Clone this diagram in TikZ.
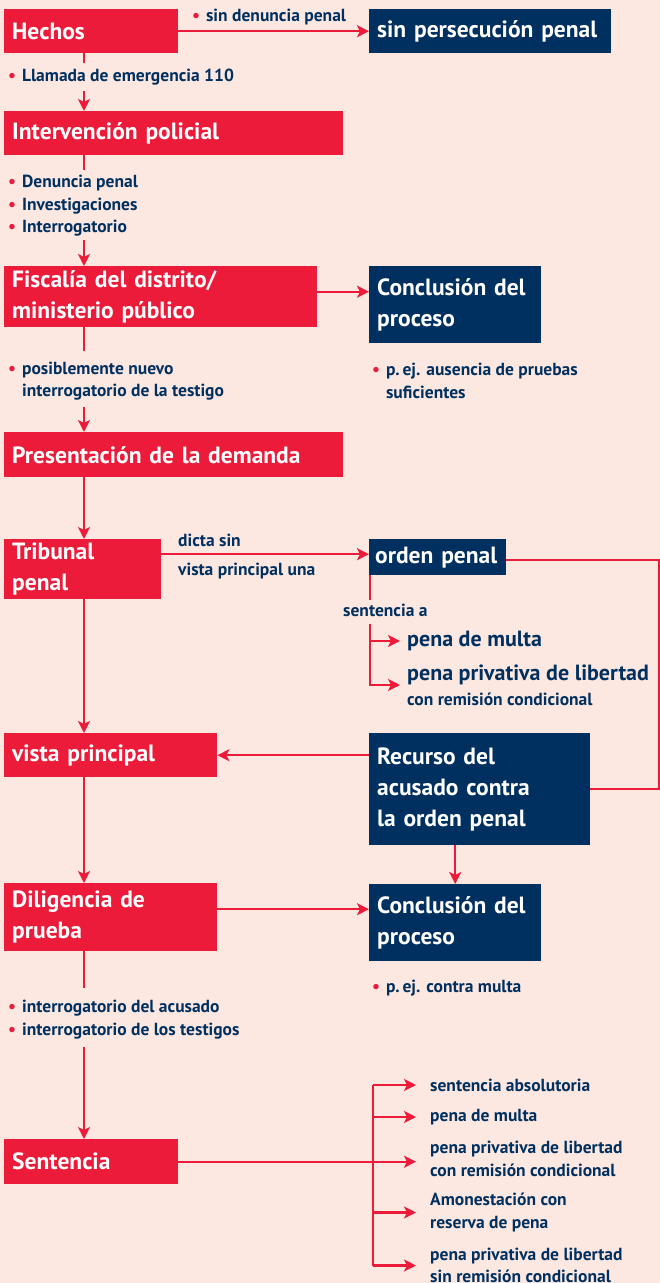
\documentclass[tikz,border=0pt]{standalone}
\usepackage{fontspec}
\setmainfont{PT Sans}
\usetikzlibrary{arrows.meta}
\definecolor{tred}{HTML}{ED1B3A}
\definecolor{tnavy}{HTML}{00305F}
\definecolor{tbg}{HTML}{FDE7E1}
\newcommand\bl{{\color{tred}\textbullet}\hspace{6pt}}
\newcommand\ind{\phantom{\textbullet}\hspace{6pt}}
\begin{document}
\begin{tikzpicture}[
x=1pt, y=-1pt,
redbox/.style 2 args={fill=tred, text=white, anchor=north west,
  font=\bfseries\fontsize{23.5}{31}\selectfont, align=left,
  inner xsep=8pt, inner ysep=0pt, text width=#1, minimum height=#2},
navybox/.style 2 args={redbox={#1}{#2}, fill=tnavy},
note/.style={text=tnavy, font=\bfseries\fontsize{17.5}{22.5}\selectfont,
  align=left, anchor=west, inner sep=0pt},
big/.style={note, font=\bfseries\fontsize{22}{25}\selectfont},
link/.style={draw=tred, line width=2.4pt},
arr/.style={link, -{Stealth[length=12pt,width=12pt,inset=3pt]}},
]
\useasboundingbox[fill=tbg] (0,0) rectangle (660,1283);

\node[redbox={158pt}{44pt}] (hechos) at (4,9) {Hechos};
\node[navybox={226pt}{44pt}] (sinpers) at (369,9) {sin persecución penal};
\node[redbox={323pt}{44pt}] (interv) at (4,111) {Intervención policial};
\node[redbox={297pt}{61pt}] (fisc) at (4,266) {Fiscalía del distrito/\\ministerio público};
\node[navybox={156pt}{77pt}] (concl) at (369,266) {Conclusión del\\proceso};
\node[redbox={323pt}{45pt}] (present) at (4,432) {Presentación de la demanda};
\node[redbox={141pt}{60pt}] (trib) at (4,539) {Tribunal\\penal};
\node[navybox={125pt}{36pt}, inner xsep=6pt] (orden) at (369,539) {orden penal};
\node[redbox={197pt}{44pt}] (vista) at (4,733) {vista principal};
\node[navybox={205pt}{112pt}] (recurso) at (369,733) {Recurso del\\acusado contra\\la orden penal};
\node[redbox={197pt}{68pt}] (dilig) at (4,883) {Diligencia de\\prueba};
\node[navybox={156pt}{77pt}] (conclb) at (369,884) {Conclusión del\\proceso};
\node[redbox={158pt}{45pt}] (sent) at (4,1139) {Sentencia};

\node[note] (sindenuncia) at (192,17) {\bl sin denuncia penal};
\node[note] (llamada) at (8,77) {\bl Llamada de emergencia 110};
\node[note] (denuncia) at (8,206) {\bl Denuncia penal\\\bl Investigaciones\\\bl Interrogatorio};
\node[note] (nuevo) at (8,381) {\bl posiblemente nuevo\\\ind interrogatorio de la testigo};
\node[note] (ausencia) at (372,381) {\bl p.\,ej. ausencia de pruebas\\\ind suficientes};
\node[note] (dicta) at (178,540) {dicta sin};
\node[note] (vistauna) at (178,571) {vista principal una};
\node[note] (sentenciaa) at (343,610) {sentencia a};
\node[big] (multa) at (407,641) {pena de multa};
\node[big] (privativa) at (407,685) {pena privativa de libertad\\{\fontsize{17.5}{17.5}\selectfont con remisión condicional}};
\node[note] (contramulta) at (372,988) {\bl p.\,ej. contra multa};
\node[note] (acusado) at (8,1019.5) {\bl interrogatorio del acusado\\\bl interrogatorio de los testigos};
\node[note] (absol) at (430,1085) {sentencia absolutoria};
\node[note] (multab) at (430,1117) {pena de multa};
\node[note] (conrem) at (430,1159) {pena privativa de libertad\\con remisión condicional};
\node[note] (amon) at (430,1212.5) {Amonestación con\\reserva de pena};
\node[note] (sinrem) at (430,1265.5) {pena privativa de libertad\\sin remisión condicional};

\coordinate (spine) at (84,0);
\coordinate (h1) at (84,63);
\coordinate (h2) at (84,91);
\coordinate (i1) at (84,170);
\coordinate (i2) at (84,240);
\coordinate (f1) at (84,351);
\coordinate (f2) at (84,407);
\coordinate (d1) at (84,988);
\coordinate (d2) at (84,1047);
\coordinate (ob1) at (370,600);
\coordinate (ob2) at (370,624);
\coordinate (sb) at (373,0);
\coordinate (edge) at (659,0);

\draw[arr] (hechos) -- (sinpers);
\draw[link] (hechos.south -| spine) -- (h1);
\draw[arr] (h2) -- (interv.north -| spine);
\draw[link] (interv.south -| spine) -- (i1);
\draw[arr] (i2) -- (fisc.north -| spine);
\draw[arr] ([yshift=5pt]fisc.east) -- ([yshift=5pt]fisc.east -| concl.west);
\draw[link] (fisc.south -| spine) -- (f1);
\draw[arr] (f2) -- (present.north -| spine);
\draw[arr] (present.south -| spine) -- (trib.north -| spine);
\draw[arr] ([yshift=3pt]orden.west -| trib.east) -- ([yshift=3pt]orden.west);
\draw[link] (orden.south -| ob1) -- (ob1);
\draw[arr, shorten >=7pt] (ob2 |- multa.west) -- (multa.west);
\draw[arr, shorten >=7pt] (ob2) |- (privativa.west);
\draw[link] ([yshift=-3pt]orden.east) -| (edge |- recurso.east) -- (recurso.east);
\draw[arr] (trib.south -| spine) -- (vista.north -| spine);
\draw[arr] (recurso.west |- vista.east) -- (vista.east);
\draw[arr] (recurso.south -| conclb.north) -- (conclb.north);
\draw[arr] (vista.south -| spine) -- (dilig.north -| spine);
\draw[arr] ([yshift=8pt]dilig.east) -- ([yshift=8pt]dilig.east -| conclb.west);
\draw[link] (dilig.south -| spine) -- (d1);
\draw[arr] (d2) -- (sent.north -| spine);
\draw[link] (sb |- absol.west) -- (sb |- sinrem.west);
\draw[arr, shorten >=14pt] (sent.east) -- (sent.east -| conrem.west);
\draw[arr, shorten >=14pt] (sb |- absol.west) -- (absol.west);
\draw[arr, shorten >=14pt] (sb |- multab.west) -- (multab.west);
\draw[arr, shorten >=14pt] (sb |- amon.west) -- (amon.west);
\draw[arr, shorten >=14pt] (sb |- sinrem.west) -- (sinrem.west);
\end{tikzpicture}
\end{document}
